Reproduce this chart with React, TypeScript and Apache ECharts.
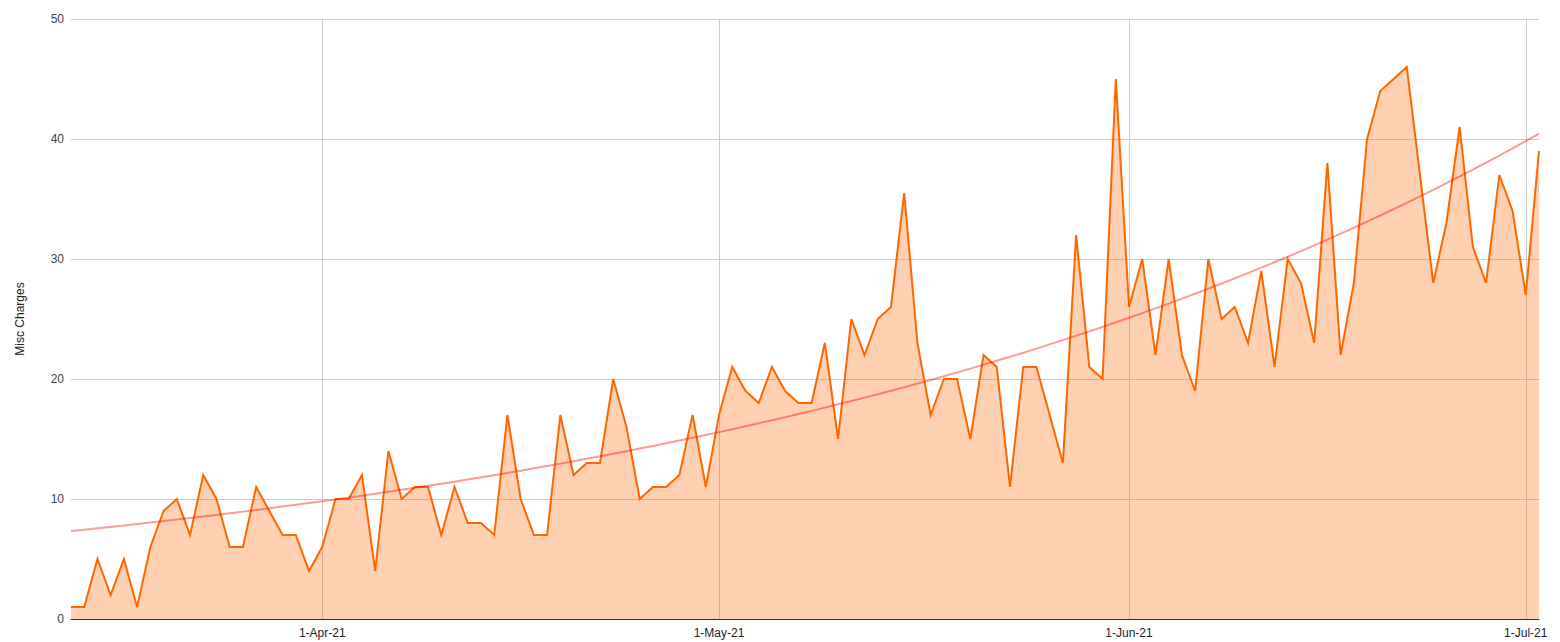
import React, { useEffect, useRef } from "react";
import * as echarts from "echarts";

// Daily "Misc Charges" values (dates in 2021)
const dates: string[] = [
  "2021-03-13", "2021-03-14", "2021-03-15", "2021-03-16", "2021-03-17", "2021-03-18", "2021-03-19",
  "2021-03-20", "2021-03-21", "2021-03-22", "2021-03-23", "2021-03-24", "2021-03-25", "2021-03-26",
  "2021-03-27", "2021-03-29", "2021-03-30", "2021-03-31",
  "2021-04-01", "2021-04-02", "2021-04-03", "2021-04-04", "2021-04-05", "2021-04-06", "2021-04-07",
  "2021-04-08", "2021-04-09", "2021-04-10", "2021-04-11", "2021-04-12", "2021-04-13", "2021-04-14",
  "2021-04-15", "2021-04-16", "2021-04-17", "2021-04-18", "2021-04-19", "2021-04-20", "2021-04-21",
  "2021-04-22", "2021-04-23", "2021-04-24", "2021-04-25", "2021-04-26", "2021-04-27", "2021-04-28",
  "2021-04-29", "2021-04-30",
  "2021-05-01", "2021-05-02", "2021-05-03", "2021-05-04", "2021-05-05", "2021-05-06", "2021-05-07",
  "2021-05-08", "2021-05-09", "2021-05-10", "2021-05-11", "2021-05-12", "2021-05-13", "2021-05-14",
  "2021-05-15", "2021-05-16", "2021-05-17", "2021-05-18", "2021-05-19", "2021-05-20", "2021-05-21",
  "2021-05-22", "2021-05-23", "2021-05-24", "2021-05-25", "2021-05-27", "2021-05-28", "2021-05-29",
  "2021-05-30", "2021-05-31",
  "2021-06-01", "2021-06-02", "2021-06-03", "2021-06-04", "2021-06-05", "2021-06-06", "2021-06-07",
  "2021-06-08", "2021-06-09", "2021-06-10", "2021-06-11", "2021-06-12", "2021-06-13", "2021-06-14",
  "2021-06-15", "2021-06-16", "2021-06-17", "2021-06-18", "2021-06-19", "2021-06-20", "2021-06-22",
  "2021-06-24", "2021-06-25", "2021-06-26", "2021-06-27", "2021-06-28", "2021-06-29", "2021-06-30",
  "2021-07-01", "2021-07-02",
];

const values: number[] = [
  1, 1, 5, 2, 5, 1, 6,
  9, 10, 7, 12, 10, 6, 6,
  11, 7, 7, 4,
  6, 10, 10, 12, 4, 14, 10,
  11, 11, 7, 11, 8, 8, 7,
  17, 10, 7, 7, 17, 12, 13,
  13, 20, 16, 10, 11, 11, 12,
  17, 11,
  17, 21, 19, 18, 21, 19, 18,
  18, 23, 15, 25, 22, 25, 26,
  35.5, 23, 17, 20, 20, 15, 22,
  21, 11, 21, 21, 13, 32, 21,
  20, 45,
  26, 30, 22, 30, 22, 19, 30,
  25, 26, 23, 29, 21, 30, 28,
  23, 38, 22, 28, 40, 44, 46,
  28, 33, 41, 31, 28, 37, 34,
  27, 39,
];

const axisStart = "2021-03-13";
const axisEnd = "2021-07-02";
const monthTicks: string[] = ["2021-04-01", "2021-05-01", "2021-06-01", "2021-07-01"];
const yTicks: number[] = [0, 10, 20, 30, 40, 50];
const monthNames = ["Jan", "Feb", "Mar", "Apr", "May", "Jun", "Jul", "Aug", "Sep", "Oct", "Nov", "Dec"];

const toTs = (s: string) => {
  const [y, m, d] = s.split("-").map(Number);
  return Date.UTC(y, m - 1, d);
};

// Exponential trendline y = A * exp(B * x): log-linear regression weighted by y
function fitExponential(xs: number[], ys: number[]) {
  const n = xs.length;
  let sw = 0, swx = 0, swl = 0, swxx = 0, swxl = 0;
  for (let i = 0; i < n; i++) {
    const w = ys[i];
    const l = Math.log(ys[i]);
    sw += w;
    swx += w * xs[i];
    swl += w * l;
    swxx += w * xs[i] * xs[i];
    swxl += w * xs[i] * l;
  }
  const B = (sw * swxl - swx * swl) / (sw * swxx - swx * swx);
  const a = (swl - B * swx) / sw;
  return { A: Math.exp(a), B };
}

export default function App() {
  const ref = useRef<HTMLDivElement>(null);

  useEffect(() => {
    document.body.style.margin = "0";
    if (!ref.current) return;
    const chart = echarts.init(ref.current, undefined, { renderer: "svg" });

    const ts = dates.map(toTs);
    const data = ts.map((t, i) => [t, values[i]]);

    const t0 = ts[0];
    const day = 86400000;
    const xs = ts.map((t) => (t - t0) / day);
    const { A, B } = fitExponential(xs, values);
    const trend = ts.map((t, i) => [t, A * Math.exp(B * xs[i])]);

    const font = "Arial, 'Liberation Sans', sans-serif";
    const tickTs = monthTicks.map(toTs);

    chart.setOption({
      animation: false,
      grid: { left: 71, right: 21, top: 19, bottom: 23, containLabel: false },
      xAxis: {
        type: "value",
        min: toTs(axisStart),
        max: toTs(axisEnd),
        axisLine: { show: true, onZero: true, lineStyle: { color: "#333333", width: 1 } },
        axisTick: { show: false, customValues: tickTs },
        axisLabel: {
          customValues: tickTs,
          formatter: (v: number) => {
            const d = new Date(v);
            return `${d.getUTCDate()}-${monthNames[d.getUTCMonth()]}-${String(d.getUTCFullYear()).slice(2)}`;
          },
          color: "#222222",
          fontSize: 12,
          fontFamily: font,
          margin: 8,
        },
        splitLine: { show: true, lineStyle: { color: "#cccccc", width: 1 } },
      },
      yAxis: {
        type: "value",
        min: yTicks[0],
        max: yTicks[yTicks.length - 1],
        interval: 10,
        name: "Misc Charges",
        nameLocation: "middle",
        nameRotate: 90,
        nameGap: 45,
        nameTextStyle: { color: "#222222", fontSize: 12, fontFamily: font },
        axisLine: { show: false },
        axisTick: { show: false },
        axisLabel: { color: "#444444", fontSize: 12, fontFamily: font, margin: 7 },
        splitLine: { show: true, lineStyle: { color: "#cccccc", width: 1 } },
      },
      series: [
        {
          type: "line",
          name: "Misc Charges",
          data,
          showSymbol: false,
          symbol: "none",
          lineStyle: { color: "#ff6600", width: 2, join: "miter" },
          itemStyle: { color: "#ff6600" },
          areaStyle: { color: "#ff6600", opacity: 0.3 },
          z: 2,
        },
        {
          type: "line",
          name: "Trend",
          data: trend,
          showSymbol: false,
          symbol: "none",
          lineStyle: { color: "#ff0000", width: 2, opacity: 0.4 },
          z: 3,
        },
      ],
    });

    return () => chart.dispose();
  }, []);

  return <div ref={ref} style={{ width: 1560, height: 642 }} />;
}
